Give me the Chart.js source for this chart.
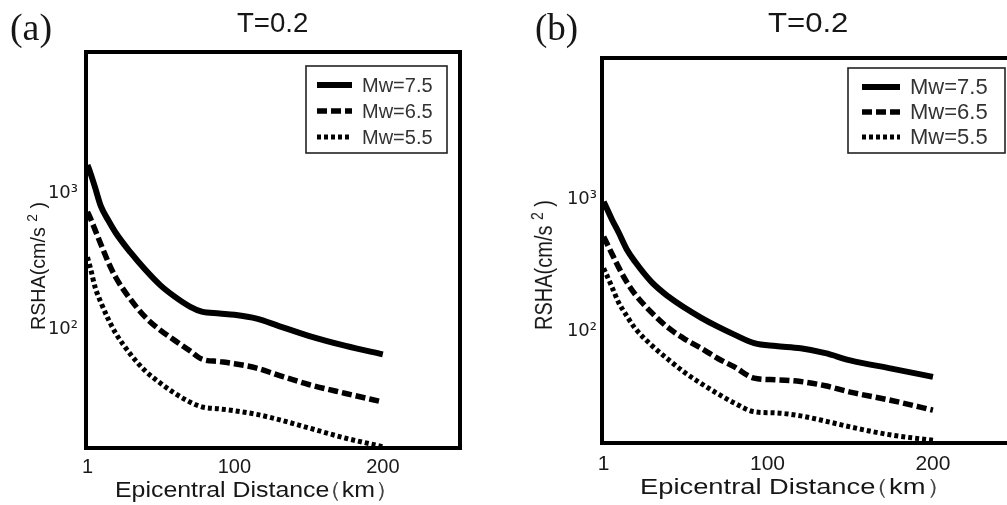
<!DOCTYPE html>
<html><head><meta charset="utf-8">
<script src="https://cdn.jsdelivr.net/npm/chart.js@4.4.0/dist/chart.umd.min.js"></script>
<style>
html,body{margin:0;padding:0;background:#fff;overflow:hidden;width:1007px;height:505px;position:relative;}
.t{position:absolute;white-space:nowrap;color:#161616;line-height:1;transform-origin:0 0;}
.sans{font-family:'Liberation Sans',Arial,sans-serif;}
.serif{font-family:'Liberation Serif','Times New Roman',serif;}
canvas{position:absolute;top:0;}
sup{font-size:0.7em;vertical-align:0.55em;line-height:0;}
</style></head><body>
<canvas id="ca" width="480" height="505" style="left:0px"></canvas>
<canvas id="cb" width="540" height="505" style="left:500px"></canvas>

<div class="t serif" data-w="42" style="left:10px;top:9px;font-size:37px;">(a)</div>
<div class="t sans" data-w="71" style="left:237px;top:9px;font-size:28px;">T=0.2</div>
<div class="t serif" data-w="43" style="left:535px;top:9px;font-size:37px;">(b)</div>
<div class="t sans" data-w="80" style="left:768px;top:9px;font-size:28px;">T=0.2</div>

<div class="t sans" data-w="285" style="left:115px;top:479px;font-size:22px;">Epicentral Distance<span style="margin-left:-11px;color:#444">（</span>km<span style="color:#444">）</span></div>
<div class="t sans" data-w="313" style="left:640px;top:476px;font-size:22px;">Epicentral Distance<span style="margin-left:-11px;color:#444">（</span>km<span style="color:#444">）</span></div>

<div class="t sans rot" data-len="128" data-cx="38" data-cy="266" data-sy="1" style="font-size:20px;">RSHA(cm/s <sup>2</sup> )</div>
<div class="t sans rot" data-len="130" data-cx="544" data-cy="265" data-sy="1.15" style="font-size:20px;">RSHA(cm/s <sup>2</sup> )</div>

<script>
// ---------- data ----------
const seriesLabels = ['Mw=7.5', 'Mw=6.5', 'Mw=5.5'];
const xTickValues = [1, 100, 200];
const yTickValues = [100, 1000];
const yTickLabels = ['10²', '10³'];

// panel (a)
const distA = [1, 3, 6, 10, 15, 20, 30, 40, 50, 60, 70, 78, 90, 100, 115, 130, 150, 175, 200];
const mw75A = [1610, 1400, 1110, 800, 630, 510, 365, 272, 210, 172, 146, 134, 130, 127, 119, 105, 89, 75, 65];
const mw65A = [727, 650, 540, 420, 310, 240, 165, 122, 98, 82, 69, 60, 57.5, 55.5, 51.5, 45.5, 39, 33.5, 29];
const mw55A = [337, 280, 205, 157, 118, 93, 65, 49, 40, 33.5, 29, 26.7, 25.8, 25, 23.5, 21.5, 18.7, 15.7, 13.6];

// panel (b)
const distB = [1, 3, 6, 10, 15, 20, 30, 40, 50, 60, 70, 80, 92, 105, 120, 135, 150, 175, 200];
const mw75B = [955, 845, 700, 560, 415, 335, 235, 183, 150, 126, 108, 94, 81, 77, 74, 68, 60, 52, 45];
const mw65B = [518, 460, 385, 305, 235, 190, 138, 106, 87, 74, 62, 53.5, 44, 42.8, 41.5, 38.5, 34.5, 29.8, 25.2];
const mw55B = [299, 263, 216, 165, 130, 105, 78, 61, 48.5, 40, 33.5, 28.5, 24.5, 24, 22.8, 20.8, 18.8, 16.3, 14.9];

// ---------- text fitting ----------
document.querySelectorAll('[data-w]').forEach(el => {
  const w = el.offsetWidth;
  el.style.transform = 'scaleX(' + (parseFloat(el.dataset.w) / w) + ')';
});
document.querySelectorAll('.rot').forEach(el => {
  const w = el.offsetWidth;
  const sx = parseFloat(el.dataset.len) / w;
  el.style.left = el.dataset.cx + 'px';
  el.style.top = el.dataset.cy + 'px';
  el.style.transformOrigin = '50% 50%';
  el.style.transform = 'translate(-50%,-50%) rotate(-90deg) scale(' + sx + ',' + el.dataset.sy + ')';
});

// ---------- plugins ----------
const framePlugin = {
  id: 'frame',
  afterDatasetsDraw(chart) {
    const {ctx, chartArea: a} = chart;
    ctx.save();
    ctx.lineWidth = 4;
    ctx.strokeStyle = '#000';
    ctx.strokeRect(a.left, a.top, a.right - a.left, a.bottom - a.top);
    ctx.restore();
  }
};
const insideLegend = {
  id: 'insideLegend',
  afterDatasetsDraw(chart, args, o) {
    const {ctx, chartArea: a} = chart;
    const x0 = a.right - o.right - o.width;
    const y0 = a.top + o.top;
    ctx.save();
    ctx.fillStyle = '#fff';
    ctx.fillRect(x0, y0, o.width, o.height);
    ctx.lineWidth = 1.6;
    ctx.strokeStyle = '#222';
    ctx.strokeRect(x0, y0, o.width, o.height);
    chart.data.datasets.forEach((ds, i) => {
      const y = y0 + o.rows[i];
      ctx.beginPath();
      ctx.setLineDash(ds.borderDash || []);
      ctx.lineWidth = ds.borderWidth;
      ctx.strokeStyle = ds.borderColor;
      ctx.lineCap = 'butt';
      ctx.moveTo(x0 + o.s0, y);
      ctx.lineTo(x0 + o.s1, y);
      ctx.stroke();
      ctx.setLineDash([]);
      ctx.fillStyle = '#333';
      ctx.font = o.fontSize + 'px "Liberation Sans", Arial, sans-serif';
      ctx.textBaseline = 'middle';
      ctx.textAlign = 'left';
      ctx.fillText(ds.label, x0 + o.tx, y + 1);
    });
    ctx.restore();
  }
};

function pts(xs, ys) { return xs.map((x, i) => ({x: x, y: ys[i]})); }

function makeChart(id, cfg) {
  const styles = [
    {borderWidth: 6, borderDash: []},
    {borderWidth: 5.5, borderDash: [10, 4]},
    {borderWidth: 5, borderDash: [4, 3]}
  ];
  const datasets = cfg.series.map((ys, i) => ({
    label: seriesLabels[i],
    data: pts(cfg.dist, ys),
    borderColor: '#000',
    backgroundColor: '#000',
    borderWidth: styles[i].borderWidth,
    borderDash: styles[i].borderDash,
    borderCapStyle: 'butt',
    borderJoinStyle: 'round',
    pointRadius: 0,
    fill: false,
    cubicInterpolationMode: 'monotone'
  }));
  return new Chart(document.getElementById(id), {
    type: 'line',
    data: {datasets},
    plugins: [framePlugin, insideLegend],
    options: {
      responsive: false,
      animation: false,
      devicePixelRatio: 1,
      layout: {padding: {left: 0, top: cfg.top, right: cfg.right, bottom: 0}},
      plugins: {
        legend: {display: false},
        title: {display: false},
        tooltip: {enabled: false},
        insideLegend: cfg.legend
      },
      scales: {
        x: {
          type: 'linear',
          min: 0,
          max: 252,
          grid: {display: false, drawTicks: false},
          border: {display: false},
          afterBuildTicks: s => { s.ticks = xTickValues.map(v => ({value: v})); },
          afterFit: s => { s.height = cfg.xH; },
          ticks: {
            autoSkip: false, maxRotation: 0, padding: cfg.xPad, color: '#1a1a1a',
            font: {family: 'Liberation Sans', size: cfg.xFont},
            callback: v => String(v)
          }
        },
        y: {
          type: 'logarithmic',
          bounds: 'data',
          min: cfg.yMin,
          max: cfg.yMax,
          grid: {display: false, drawTicks: false},
          border: {display: false},
          afterBuildTicks: s => { s.ticks = yTickValues.map(v => ({value: v})); },
          afterFit: s => { s.width = cfg.yW; },
          ticks: {
            autoSkip: false, padding: cfg.yPad, color: '#1a1a1a',
            font: {family: 'DejaVu Sans', size: 18},
            callback: v => yTickLabels[yTickValues.indexOf(v)]
          }
        }
      }
    }
  });
}

makeChart('ca', {
  dist: distA, series: [mw75A, mw65A, mw55A],
  top: 52, right: 20, xH: 57, yW: 86, xPad: 7, yPad: 8, xFont: 20,
  yMin: 13.3, yMax: 10900,
  legend: {right: 13, top: 14, width: 141, height: 87, rows: [19, 45, 71], s0: 11, s1: 46, tx: 56, fontSize: 20}
});
makeChart('cb', {
  dist: distB, series: [mw75B, mw65B, mw55B],
  top: 58, right: 21, xH: 62, yW: 102, xPad: 9, yPad: 5, xFont: 21,
  yMin: 14.2, yMax: 11700,
  legend: {right: 14, top: 10, width: 157, height: 85, rows: [19, 44, 69], s0: 14, s1: 52, tx: 62, fontSize: 22}
});
</script>
</body></html>
